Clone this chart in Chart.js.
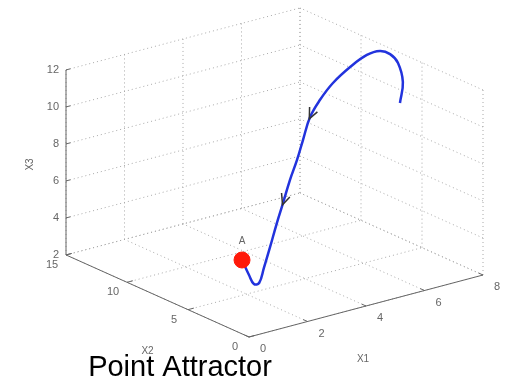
<!DOCTYPE html>
<html>
<head>
<meta charset="utf-8">
<script src="https://cdn.jsdelivr.net/npm/chart.js@4/dist/chart.umd.min.js"></script>
<style>
  body { margin: 0; background: #fff; }
  #wrap { width: 509px; height: 381px; position: relative; }
</style>
</head>
<body>
<div id="wrap"><canvas id="myChart"></canvas></div>
<script>
// ticks of the three axes
const x1Ticks = [0, 2, 4, 6, 8];
const x2Ticks = [0, 5, 10, 15];
const x3Ticks = [2, 4, 6, 8, 10, 12];

// trajectory
const pathX1 = [7.58, 7.93, 7.93, 7.91, 7.77, 7.45, 6.92, 6.29, 5.76, 5.30, 4.89, 4.52, 4.11, 3.71, 3.33, 2.89, 2.47, 2.14, 1.92, 1.71, 1.43];
const pathX2 = [5.8, 6.4, 6.8, 7.4, 7.9, 8.2, 8.3, 8.2, 8.0, 7.7, 7.3, 6.9, 6.5, 6.1, 5.7, 5.2, 4.7, 4.3, 4.2, 4.1, 4.0];
const pathX3 = [9.76, 10.57, 11.48, 11.79, 11.87, 11.70, 11.24, 10.67, 10.03, 9.39, 8.44, 7.64, 6.84, 5.89, 5.08, 4.12, 3.31, 2.75, 2.82, 3.42, 4.38];

// the attractor point A
const pointX1 = [1.43];
const pointX2 = [4.0];
const pointX3 = [4.38];

// arrows drawn on the trajectory at these indices
const arrowAt = [9, 13];

// 3d -> 2d view (MATLAB style box)
const view = { ox: 249, oy: 337, e1: [29.25, -7.75], e2: [-12.2, -5.47], e3: -18.5 };
const x1Min = x1Ticks[0], x1Max = x1Ticks[x1Ticks.length - 1];
const x2Min = x2Ticks[0], x2Max = x2Ticks[x2Ticks.length - 1];
const x3Min = x3Ticks[0], x3Max = x3Ticks[x3Ticks.length - 1];

function proj(a, b, c) {
    return {
        x: view.ox + a * view.e1[0] + b * view.e2[0],
        y: view.oy + a * view.e1[1] + b * view.e2[1] + (c - x3Min) * view.e3
    };
}

const gap = { x: NaN, y: NaN };
function seg(list, p, q) {
    list.push(proj(p[0], p[1], p[2]), proj(q[0], q[1], q[2]), gap);
}

// dotted grid on the two back walls and the floor
let gridData = [];
x1Ticks.forEach(a => seg(gridData, [a, x2Max, x3Min], [a, x2Max, x3Max]));
x3Ticks.forEach(c => seg(gridData, [x1Min, x2Max, c], [x1Max, x2Max, c]));
x2Ticks.forEach(b => seg(gridData, [x1Max, b, x3Min], [x1Max, b, x3Max]));
x3Ticks.forEach(c => seg(gridData, [x1Max, x2Min, c], [x1Max, x2Max, c]));
x1Ticks.forEach(a => seg(gridData, [a, x2Min, x3Min], [a, x2Max, x3Min]));
x2Ticks.forEach(b => seg(gridData, [x1Min, b, x3Min], [x1Max, b, x3Min]));

// solid axis lines and tick marks
let axisData = [];
seg(axisData, [x1Min, x2Max, x3Min], [x1Min, x2Max, x3Max]);
seg(axisData, [x1Min, x2Min, x3Min], [x1Min, x2Max, x3Min]);
seg(axisData, [x1Min, x2Min, x3Min], [x1Max, x2Min, x3Min]);
x3Ticks.forEach(c => seg(axisData, [x1Min, x2Max, c], [x1Min + 0.15, x2Max, c]));
x1Ticks.forEach(a => seg(axisData, [a, x2Min, x3Min], [a, x2Min + 0.35, x3Min]));
x2Ticks.forEach(b => seg(axisData, [x1Min, b, x3Min], [x1Min + 0.2, b, x3Min]));

const pathData = pathX1.map((a, i) => proj(a, pathX2[i], pathX3[i]));
const pointData = pointX1.map((a, i) => proj(a, pointX2[i], pointX3[i]));

const font = '"Liberation Sans", Arial, sans-serif';

// axis labels, arrows and title
const textPlugin = {
    id: 'texts',
    afterDatasetsDraw(chart) {
        const ctx = chart.ctx;
        ctx.save();
        ctx.fillStyle = '#666';
        ctx.font = '11px ' + font;
        ctx.textBaseline = 'middle';

        ctx.textAlign = 'right';
        x3Ticks.forEach(c => {
            const p = proj(x1Min, x2Max, c);
            ctx.fillText(String(c), p.x - 7, p.y);
        });
        ctx.textAlign = 'center';
        x2Ticks.forEach(b => {
            const p = proj(x1Min, b, x3Min);
            ctx.fillText(String(b), p.x - 14, p.y + 10);
        });
        x1Ticks.forEach(a => {
            const p = proj(a, x2Min, x3Min);
            ctx.fillText(String(a), p.x + 14, p.y + 12);
        });
        ctx.font = '10px ' + font;
        let p = proj((x1Min + x1Max) / 2, x2Min, x3Min);
        ctx.fillText('X1', p.x - 3, p.y + 53);
        p = proj(x1Min, (x2Min + x2Max) / 2, x3Min);
        ctx.fillText('X2', p.x - 10, p.y + 55);
        p = proj(x1Min, x2Max, (x3Min + x3Max) / 2);
        ctx.save();
        ctx.translate(p.x - 36, p.y + 2);
        ctx.rotate(-Math.PI / 2);
        ctx.fillText('X3', 0, 0);
        ctx.restore();

        // label of point A
        const pts = chart.getDatasetMeta(3).data;
        ctx.fillText('A', pts[0].x, pts[0].y - 19);

        // arrow heads along the trajectory
        const line = chart.getDatasetMeta(2).data;
        ctx.strokeStyle = '#333';
        ctx.lineWidth = 1.5;
        arrowAt.forEach(i => {
            const a = line[i - 1], b = line[i + 1], t = line[i];
            const ang = Math.atan2(b.y - a.y, b.x - a.x);
            ctx.beginPath();
            ctx.moveTo(t.x - 10 * Math.cos(ang - 0.45), t.y - 10 * Math.sin(ang - 0.45));
            ctx.lineTo(t.x + 2 * Math.cos(ang), t.y + 2 * Math.sin(ang));
            ctx.lineTo(t.x - 9 * Math.cos(ang + 0.55), t.y - 9 * Math.sin(ang + 0.55));
            ctx.stroke();
        });

        ctx.fillStyle = '#000';
        ctx.font = '29px ' + font;
        ctx.textAlign = 'center';
        ctx.textBaseline = 'alphabetic';
        ctx.fillText('Point Attractor', 180, 376);
        ctx.restore();
    }
};

new Chart(document.getElementById('myChart'), {
    type: 'scatter',
    data: {
        datasets: [
            {
                data: gridData, showLine: true, order: 4,
                borderColor: '#a8a8a8', borderWidth: 1, borderDash: [1, 3],
                pointRadius: 0
            },
            {
                data: axisData, showLine: true, order: 3,
                borderColor: '#666', borderWidth: 1, pointRadius: 0
            },
            {
                data: pathData, showLine: true, order: 2,
                borderColor: '#2233dd', borderWidth: 2.5, tension: 0.4,
                pointRadius: 0
            },
            {
                data: pointData, order: 1,
                pointRadius: 8, pointBackgroundColor: '#ff1a0a', pointBorderColor: '#ff1a0a'
            }
        ]
    },
    options: {
        responsive: true,
        maintainAspectRatio: false,
        animation: false,
        layout: { padding: 0, autoPadding: false },
        plugins: { legend: { display: false }, tooltip: { enabled: false } },
        scales: {
            x: { type: 'linear', min: 0, max: 509, display: false },
            y: { type: 'linear', min: 0, max: 381, reverse: true, display: false }
        }
    },
    plugins: [textPlugin]
});
</script>
</body>
</html>
